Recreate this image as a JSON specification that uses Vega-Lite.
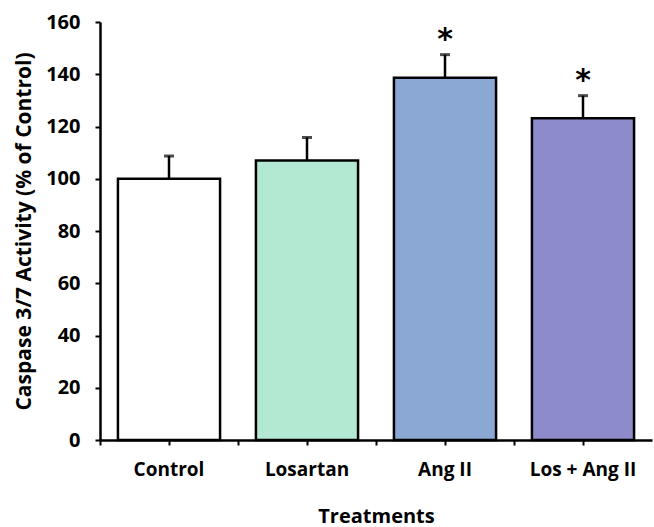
{
  "$schema": "https://vega.github.io/schema/vega-lite/v6.json",
  "autosize": "none",
  "width": 552,
  "height": 418,
  "padding": {"left": 100, "top": 22, "right": 2, "bottom": 87},
  "background": "white",
  "config": {
    "view": {"stroke": null},
    "font": "Open Sans",
    "axis": {"labelFont": "Open Sans", "titleFont": "Open Sans", "labelFontWeight": "bold", "titleFontWeight": "bold", "labelColor": "black", "titleColor": "black", "domainColor": "black", "tickColor": "black", "domainWidth": 2.5, "tickWidth": 2, "grid": false}
  },
  "data": {
    "values": [
      {"treatment": "Control", "mean": 100, "hi": 108.7, "sig": "", "color": "#ffffff"},
      {"treatment": "Losartan", "mean": 107, "hi": 115.8, "sig": "", "color": "#b3e9d3"},
      {"treatment": "Ang II", "mean": 138.7, "hi": 147.5, "sig": "*", "color": "#8aa8d3"},
      {"treatment": "Los + Ang II", "mean": 123.2, "hi": 131.8, "sig": "*", "color": "#8d8bca"}
    ]
  },
  "resolve": {"axis": {"x": "independent"}},
  "layer": [
    {
      "mark": {"type": "bar", "width": {"band": 0.74}, "stroke": "black", "strokeWidth": 2.5},
      "encoding": {
        "x": {"field": "treatment", "type": "nominal", "sort": null,
          "scale": {"paddingInner": 0, "paddingOuter": 0},
          "axis": {"orient": "bottom", "title": "Treatments", "labelAngle": 0, "labelFontSize": 19, "titleFontSize": 20, "labelPadding": 15, "titlePadding": 27, "tickSize": 5, "bandPosition": 0}},
        "y": {"field": "mean", "type": "quantitative",
          "scale": {"domain": [0, 160]},
          "axis": {"title": "Caspase 3/7 Activity (% of Control)", "values": [0,20,40,60,80,100,120,140,160], "labelFontSize": 20, "titleFontSize": 21, "tickSize": 5, "labelPadding": 15, "titlePadding": 11}},
        "fill": {"field": "color", "type": "nominal", "scale": null}
      }
    },
    {
      "mark": {"type": "rule", "stroke": "black", "strokeWidth": 2.5},
      "encoding": {
        "x": {"field": "treatment", "type": "nominal", "sort": null,
          "axis": {"orient": "bottom", "title": null, "labels": false, "domain": false, "tickSize": 5, "bandPosition": 0.5}},
        "y": {"field": "mean", "type": "quantitative"}, "y2": {"field": "hi"}}
    },
    {
      "mark": {"type": "tick", "orient": "horizontal", "color": "black", "size": 10, "thickness": 3},
      "encoding": {
        "x": {"field": "treatment", "type": "nominal", "sort": null, "axis": null},
        "y": {"field": "hi", "type": "quantitative"}}
    },
    {
      "mark": {"type": "text", "fontSize": 30, "font": "DejaVu Sans", "fontWeight": "bold", "baseline": "middle", "dy": -15, "color": "black"},
      "encoding": {
        "x": {"field": "treatment", "type": "nominal", "sort": null, "axis": null},
        "y": {"field": "hi", "type": "quantitative"}, "text": {"field": "sig"}}
    }
  ]
}
